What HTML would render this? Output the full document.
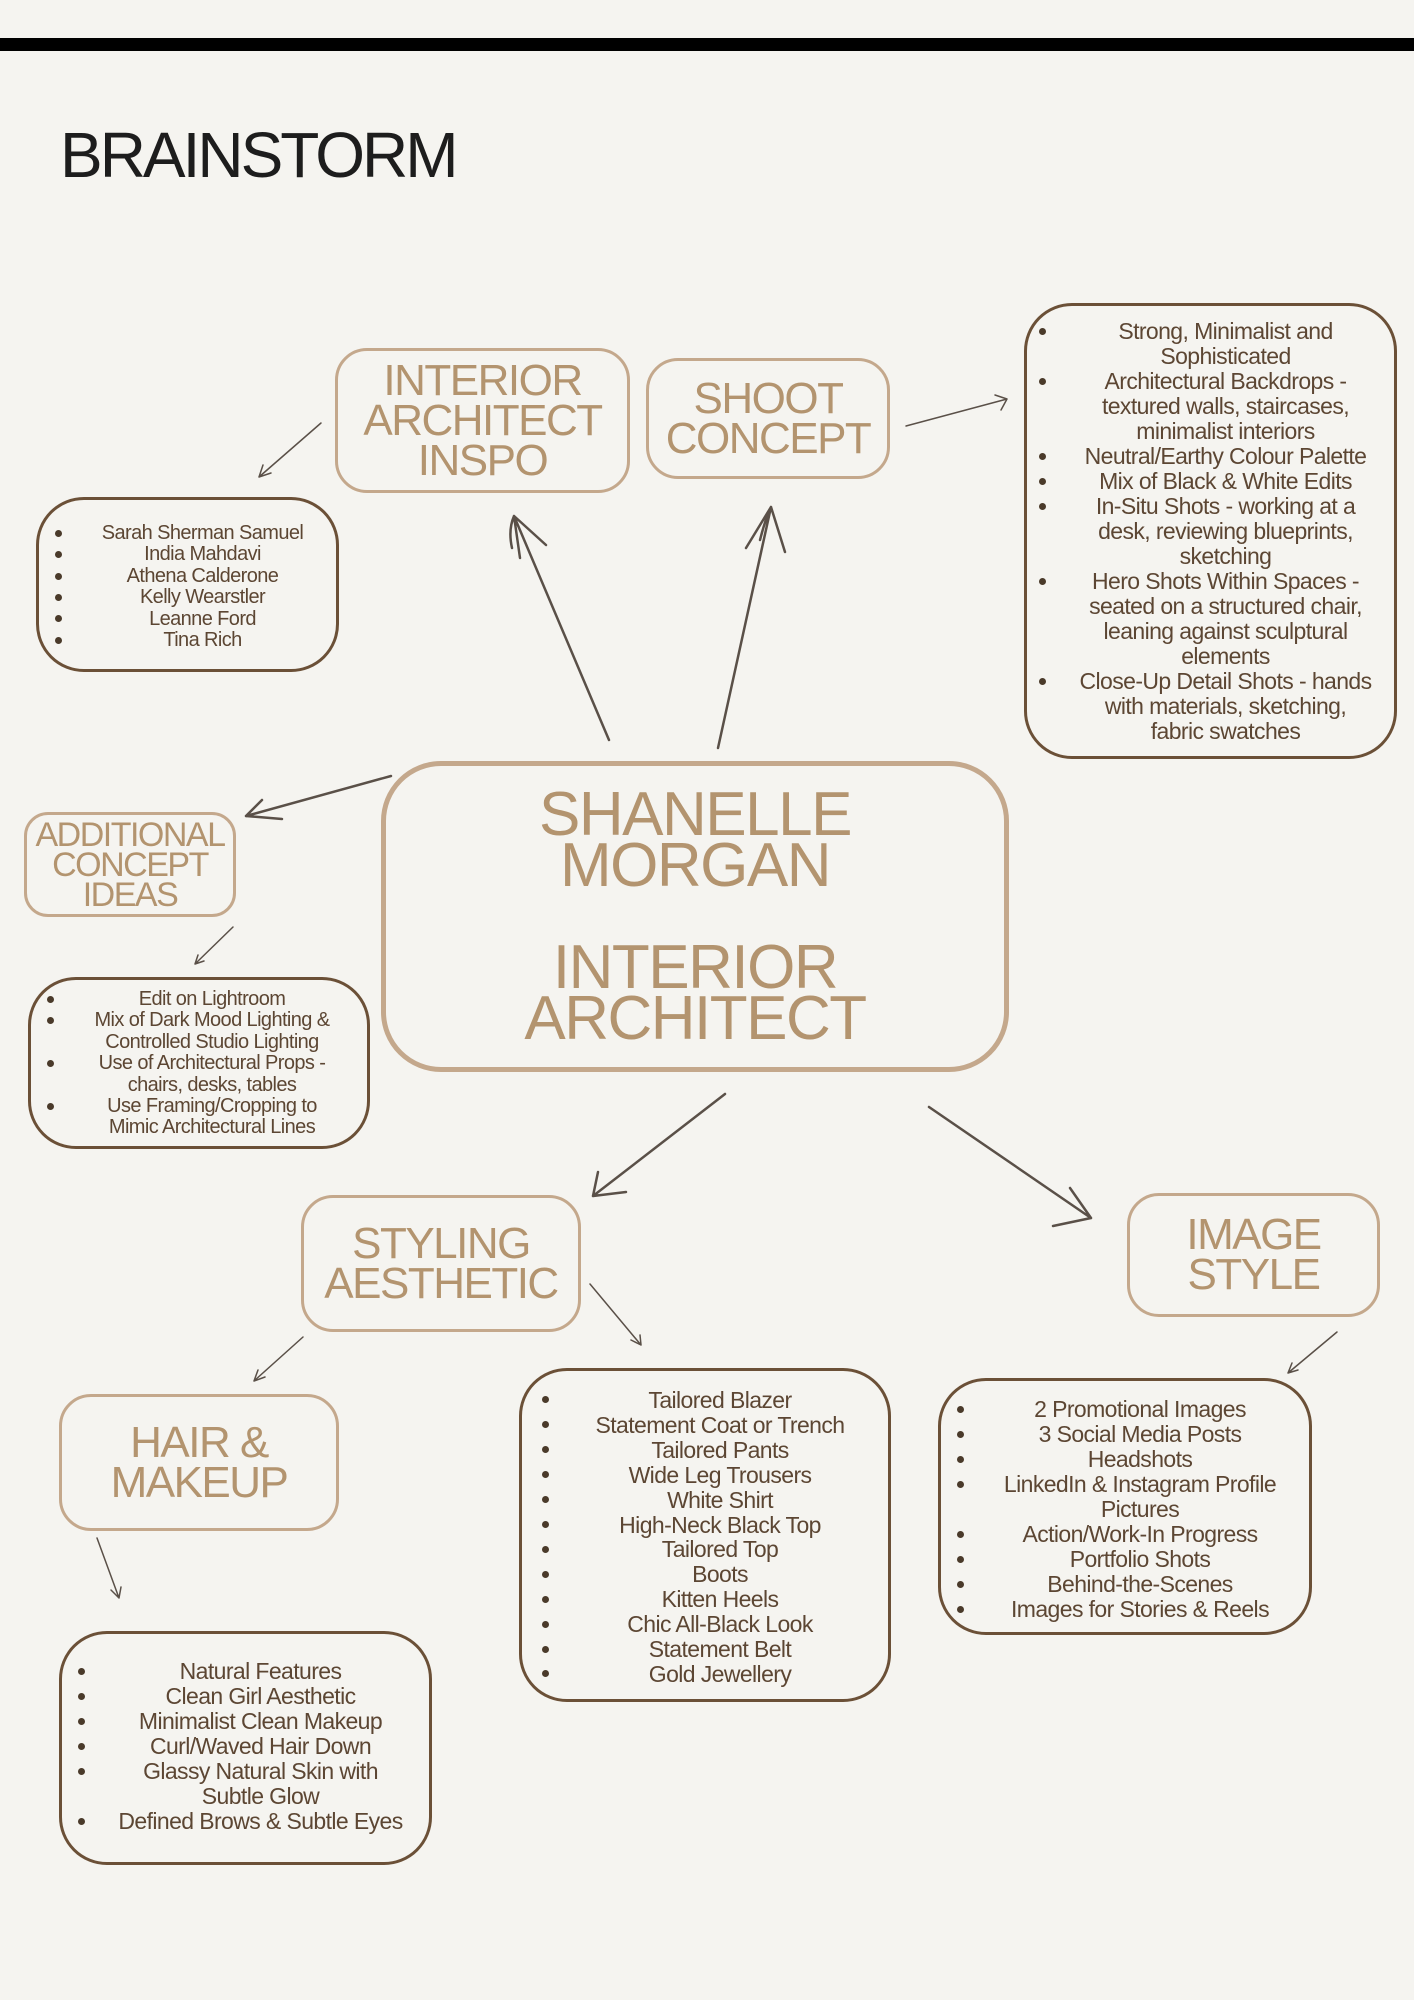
<!DOCTYPE html>
<html><head><meta charset="utf-8"><style>
body{margin:0;background:#f5f4f0;}
#p{position:relative;width:1414px;height:2000px;background:#f5f4f0;overflow:hidden;font-family:"Liberation Sans Narrow","Liberation Sans",sans-serif;}
.bar{position:absolute;left:0;top:38px;width:1414px;height:13px;background:#000;}
.t{position:absolute;left:60px;top:118px;font-size:64px;color:#1d1d1d;letter-spacing:-3px;}
.b{position:absolute;box-sizing:border-box;border:3px solid #c4a88c;border-radius:32px;display:flex;align-items:center;justify-content:center;text-align:center;color:#b3946f;letter-spacing:-1.5px;}
.l{position:absolute;box-sizing:border-box;border:3.5px solid #6b5037;border-radius:48px;color:#5c4633;text-align:center;letter-spacing:-0.6px;}
.l div{position:relative;}
.l div::before{content:"";position:absolute;left:var(--bx);top:calc(var(--lh)/2 - 4px);width:7px;height:7px;border-radius:50%;background:#4a3a2a;}
</style></head><body><div id="p">
<div class="bar"></div>
<div class="t">BRAINSTORM</div>

<div class="b" style="left:335px;top:348px;width:295px;height:145px;font-size:44px;line-height:40px;">INTERIOR<br>ARCHITECT<br>INSPO</div>
<div class="b" style="left:646px;top:358px;width:244px;height:121px;font-size:44px;line-height:40px;">SHOOT<br>CONCEPT</div>
<div class="b" style="left:381px;top:761px;width:628px;height:311px;border-width:5px;border-radius:60px;font-size:62px;line-height:51px;">SHANELLE<br>MORGAN<br><br>INTERIOR<br>ARCHITECT</div>
<div class="b" style="left:24px;top:812px;width:212px;height:105px;border-radius:24px;font-size:34px;line-height:30px;">ADDITIONAL<br>CONCEPT<br>IDEAS</div>
<div class="b" style="left:301px;top:1195px;width:280px;height:137px;font-size:44px;line-height:40px;">STYLING<br>AESTHETIC</div>
<div class="b" style="left:1127px;top:1193px;width:253px;height:124px;font-size:44px;line-height:40px;">IMAGE<br>STYLE</div>
<div class="b" style="left:59px;top:1394px;width:280px;height:137px;font-size:44px;line-height:40px;">HAIR &amp;<br>MAKEUP</div>

<div class="l" style="left:1024px;top:303px;width:373px;height:456px;font-size:23px;line-height:25px;padding:13px 10px 0 40px;--bx:-28px;--lh:25px;">
<div>Strong, Minimalist and<br>Sophisticated</div>
<div>Architectural Backdrops -<br>textured walls, staircases,<br>minimalist interiors</div>
<div>Neutral/Earthy Colour Palette</div>
<div>Mix of Black &amp; White Edits</div>
<div>In-Situ Shots - working at a<br>desk, reviewing blueprints,<br>sketching</div>
<div>Hero Shots Within Spaces -<br>seated on a structured chair,<br>leaning against sculptural<br>elements</div>
<div>Close-Up Detail Shots - hands<br>with materials, sketching,<br>fabric swatches</div>
</div>

<div class="l" style="left:36px;top:497px;width:303px;height:175px;font-size:20px;line-height:21.4px;padding:23px 10px 0 40px;--bx:-24px;--lh:21.4px;">
<div>Sarah Sherman Samuel</div><div>India Mahdavi</div><div>Athena Calderone</div><div>Kelly Wearstler</div><div>Leanne Ford</div><div>Tina Rich</div>
</div>

<div class="l" style="left:28px;top:977px;width:342px;height:172px;font-size:20px;line-height:21.4px;padding:9px 14px 0 40px;--bx:-24px;--lh:21.4px;">
<div>Edit on Lightroom</div><div>Mix of Dark Mood Lighting &amp;<br>Controlled Studio Lighting</div><div>Use of Architectural Props -<br>chairs, desks, tables</div><div>Use Framing/Cropping to<br>Mimic Architectural Lines</div>
</div>

<div class="l" style="left:519px;top:1368px;width:372px;height:334px;font-size:23px;line-height:24.9px;padding:17px 10px 0 40px;--bx:-20px;--lh:24.9px;">
<div>Tailored Blazer</div><div>Statement Coat or Trench</div><div>Tailored Pants</div><div>Wide Leg Trousers</div><div>White Shirt</div><div>High-Neck Black Top</div><div>Tailored Top</div><div>Boots</div><div>Kitten Heels</div><div>Chic All-Black Look</div><div>Statement Belt</div><div>Gold Jewellery</div>
</div>

<div class="l" style="left:938px;top:1378px;width:374px;height:257px;font-size:23px;line-height:25px;padding:16px 10px 0 40px;--bx:-24px;--lh:25px;">
<div>2 Promotional Images</div><div>3 Social Media Posts</div><div>Headshots</div><div>LinkedIn &amp; Instagram Profile<br>Pictures</div><div>Action/Work-In Progress</div><div>Portfolio Shots</div><div>Behind-the-Scenes</div><div>Images for Stories &amp; Reels</div>
</div>

<div class="l" style="left:59px;top:1631px;width:373px;height:234px;font-size:23px;line-height:25px;padding:25px 10px 0 40px;--bx:-24px;--lh:25px;">
<div>Natural Features</div><div>Clean Girl Aesthetic</div><div>Minimalist Clean Makeup</div><div>Curl/Waved Hair Down</div><div>Glassy Natural Skin with<br>Subtle Glow</div><div>Defined Brows &amp; Subtle Eyes</div>
</div>

<svg width="1414" height="2000" style="position:absolute;left:0;top:0" fill="none" stroke="#5a5048" stroke-linecap="round" stroke-linejoin="round">
<g stroke-width="1.5">
<path d="M321 423 L259 477 M259 477 L263 465 M259 477 L271 473"/>
<path d="M233 927 L195 964 M195 964 L198 955 M195 964 L204 961"/>
<path d="M590 1284 L641 1345 M641 1345 L631 1340 M641 1345 L640 1335"/>
<path d="M303 1337 L254 1381 M254 1381 L258 1370 M254 1381 L265 1377"/>
<path d="M1337 1332 L1288 1373 M1288 1373 L1292 1363 M1288 1373 L1298 1370"/>
<path d="M97 1538 L119 1598 M119 1598 L111 1590 M119 1598 L121 1587"/>
<path d="M906 426 L1007 399 M1007 399 L995 395 M1007 399 L1001 410"/>
</g>
<g stroke-width="2.5">
<path d="M609 740 L514 516 M514 516 L520 558 M514 516 L546 545 M514 516 Q508 530 512 548"/>
<path d="M718 748 L771 507 M771 507 L746 548 M771 507 L785 552 M771 507 Q765 520 760 540"/>
<path d="M391 776 L246 816 M246 816 L262 800 M246 816 L282 819"/>
<path d="M725 1094 L593 1196 M593 1196 L598 1172 M593 1196 L626 1192"/>
<path d="M929 1107 L1091 1218 M1091 1218 L1070 1188 M1091 1218 L1053 1226"/>
</g>
</svg>
</div></body></html>
